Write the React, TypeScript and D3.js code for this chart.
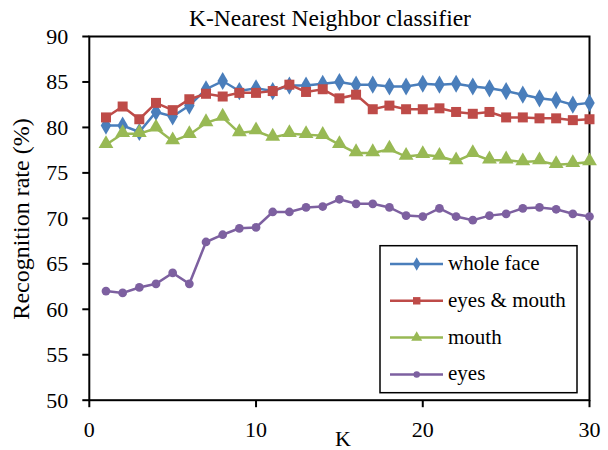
import React, { useRef, useEffect } from "react";
import * as d3 from "d3";

const kValues = d3.range(1, 31);

const wholeFace = [
  80.2, 80.2, 79.5, 81.7, 81.2, 82.4, 84.2, 85.1, 84.0, 84.3,
  84.0, 84.6, 84.6, 84.8, 85.0, 84.7, 84.7, 84.5, 84.5, 84.8,
  84.7, 84.8, 84.5, 84.3, 84.0, 83.6, 83.2, 83.0, 82.5, 82.7
];
const eyesMouth = [
  81.1, 82.3, 80.9, 82.7, 81.9, 83.1, 83.7, 83.4, 83.8, 83.8,
  84.0, 84.7, 83.9, 84.2, 83.2, 83.6, 82.0, 82.4, 82.0, 82.0,
  82.1, 81.7, 81.5, 81.7, 81.1, 81.1, 81.0, 81.0, 80.8, 80.9
];
const mouth = [
  78.1, 79.3, 79.3, 79.9, 78.5, 79.2, 80.5, 81.1, 79.4, 79.6,
  78.9, 79.3, 79.2, 79.1, 78.1, 77.2, 77.2, 77.6, 76.8, 77.0,
  76.8, 76.3, 77.1, 76.4, 76.4, 76.2, 76.3, 75.9, 76.0, 76.2
];
const eyes = [
  62.0, 61.8, 62.4, 62.8, 64.0, 62.8, 67.4, 68.2, 68.9, 69.0,
  70.7, 70.7, 71.2, 71.3, 72.1, 71.6, 71.6, 71.2, 70.3, 70.2,
  71.1, 70.2, 69.8, 70.3, 70.5, 71.1, 71.2, 71.0, 70.5, 70.2
];

const seriesNames = ["whole face", "eyes & mouth", "mouth", "eyes"];
const seriesValues = [wholeFace, eyesMouth, mouth, eyes];
const seriesColors = ["#4A7EBB", "#BE4B48", "#98B954", "#7D60A0"];
const seriesSymbols = [d3.symbolDiamond, d3.symbolSquare, d3.symbolTriangle, d3.symbolCircle];
const symbolSizes = [95, 100, 95, 60];

const yTicks = [50, 55, 60, 65, 70, 75, 80, 85, 90];
const xTicks = [0, 10, 20, 30];

const FONT = "'Liberation Serif', 'Times New Roman', serif";

const App = () => {
  const chartRef = useRef<SVGSVGElement>(null);

  useEffect(() => {
    document.body.style.margin = "0";
    const width = 608;
    const height = 450;
    const plot = { left: 89.3, right: 589.5, top: 36.5, bottom: 400.2 };

    const svg = d3.select(chartRef.current);
    svg.selectAll("*").remove();

    const x = d3.scaleLinear().domain([0, 30]).range([plot.left, plot.right]);
    const y = d3.scaleLinear().domain([50, 90]).range([plot.bottom, plot.top]);

    svg.append("rect").attr("width", width).attr("height", height).attr("fill", "#fff");

    const addText = (parent, px, py, txt, size, anchor = "start") =>
      parent
        .append("text")
        .attr("x", px)
        .attr("y", py)
        .attr("text-anchor", anchor)
        .style("font-family", FONT)
        .style("font-size", size + "px")
        .text(txt);

    // title
    addText(svg, 330, 26, "K-Nearest Neighbor classifier", 23.5, "middle");

    // frame
    svg
      .append("rect")
      .attr("x", plot.left)
      .attr("y", plot.top)
      .attr("width", plot.right - plot.left)
      .attr("height", plot.bottom - plot.top)
      .attr("fill", "none")
      .attr("stroke", "#000")
      .attr("stroke-width", 2);

    // y ticks
    const yAxis = svg.append("g");
    yTicks.forEach((t) => {
      yAxis
        .append("line")
        .attr("x1", plot.left - 7)
        .attr("x2", plot.left)
        .attr("y1", y(t))
        .attr("y2", y(t))
        .attr("stroke", "#000")
        .attr("stroke-width", 2);
      addText(yAxis, plot.left - 21, y(t), t, 22, "end").attr("dy", "0.34em");
    });

    // x ticks
    const xAxis = svg.append("g");
    xTicks.forEach((t) => {
      xAxis
        .append("line")
        .attr("x1", x(t))
        .attr("x2", x(t))
        .attr("y1", plot.bottom)
        .attr("y2", plot.bottom + 7)
        .attr("stroke", "#000")
        .attr("stroke-width", 2);
      addText(xAxis, x(t), 437, t, 22, "middle");
    });

    addText(svg, 343, 446, "K", 22, "middle");

    addText(svg, 0, 0, "Recognition rate (%)", 24, "middle").attr(
      "transform",
      `translate(29, 219) rotate(-90)`
    );

    const line = d3
      .line<number>()
      .x((d, i) => x(kValues[i]))
      .y((d) => y(d));

    seriesValues.forEach((vals, s) => {
      const g = svg.append("g");
      g.append("path")
        .attr("d", line(vals))
        .attr("fill", "none")
        .attr("stroke", seriesColors[s])
        .attr("stroke-width", 2.5);
      const sym = d3.symbol().type(seriesSymbols[s]).size(symbolSizes[s]);
      g.selectAll("path.m")
        .data(vals)
        .enter()
        .append("path")
        .attr("class", "m")
        .attr("d", sym)
        .attr("transform", (d, i) => `translate(${x(kValues[i])},${y(d) - (s === 2 ? 1 : 0)})`)
        .attr("fill", seriesColors[s]);
    });

    // legend
    const legend = svg.append("g");
    legend
      .append("rect")
      .attr("x", 380)
      .attr("y", 245.7)
      .attr("width", 197)
      .attr("height", 147)
      .attr("fill", "#fff")
      .attr("stroke", "#000")
      .attr("stroke-width", 1.5);

    seriesNames.forEach((name, i) => {
      const row = legend.append("g").attr("transform", `translate(0, ${264 + i * 36.8})`);
      row
        .append("line")
        .attr("x1", 390)
        .attr("x2", 443)
        .attr("stroke", seriesColors[i])
        .attr("stroke-width", 2.5);
      row
        .append("path")
        .attr("d", d3.symbol().type(seriesSymbols[i]).size(symbolSizes[i] * 0.55)())
        .attr("transform", "translate(416.7, 0)")
        .attr("fill", seriesColors[i]);
      addText(row, 448, 6, name, 21);
    });
  }, []);

  return <svg ref={chartRef} width={608} height={450} style={{ display: "block" }}></svg>;
};

export default App;
